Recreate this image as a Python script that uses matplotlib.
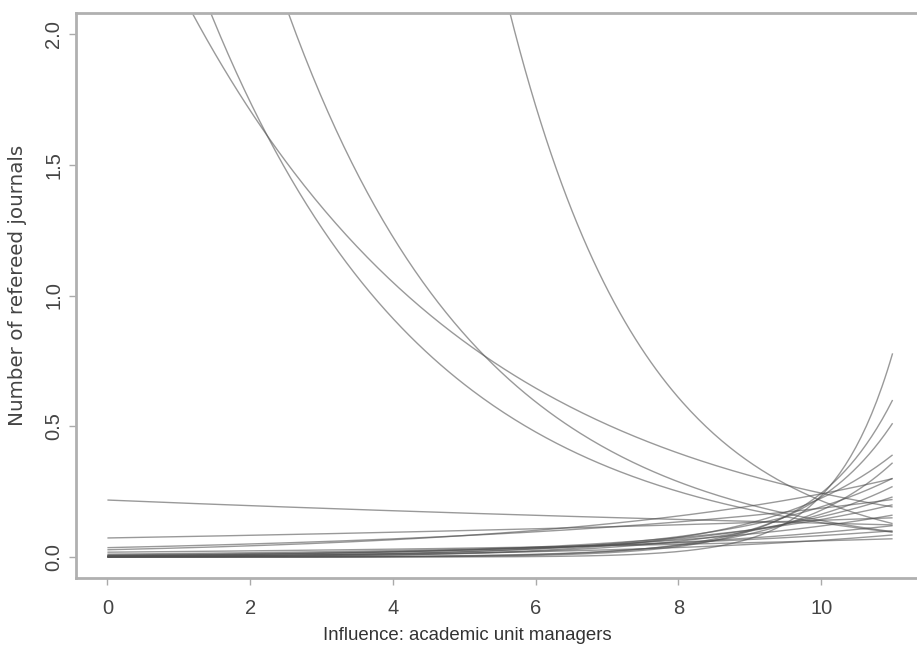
import numpy as np
import matplotlib
matplotlib.use("Agg")
import matplotlib.pyplot as plt

plt.rcParams['font.family'] = ['Liberation Sans', 'DejaVu Sans']

# Poisson-type predicted curves: log(y) = intercept + slope * x
intercepts = [1.021, 1.20, 1.650, 3.665,           # steep decreasing
              -1.523, -2.617, -3.324, -3.576,     # flat-ish
              -13.45, -10.41, -9.47, -6.99, -8.72, -6.81,
              -6.15, -5.87, -5.24, -5.13, -4.87, -4.50, -5.55, -3.98]
slopes = [-0.243, -0.323, -0.362, -0.52,
          -0.052, 0.0655, 0.1646, 0.2156,
          1.2, 0.9, 0.8, 0.55, 0.7, 0.5,
          0.45, 0.40, 0.33, 0.30, 0.25, 0.20, 0.28, 0.12]
x_min, x_max = 0, 11
x_ticks = [0, 2, 4, 6, 8, 10]
y_ticks = [0.0, 0.5, 1.0, 1.5, 2.0]
x_label = "Influence: academic unit managers"
y_label = "Number of refereed journals"

W, H = 917, 645
fig = plt.figure(figsize=(W / 100, H / 100), dpi=100)
ax = fig.add_axes([76 / W, 1 - 578 / H, (924 - 76) / W, (578 - 13) / H])

xs = np.linspace(x_min, x_max, 300)
for a, b in zip(intercepts, slopes):
    ax.plot(xs, np.exp(a + b * xs), color='#505050', lw=1.0, alpha=0.58,
            solid_capstyle='butt')

ax.set_xlim(-0.44, 11.44)
ax.set_ylim(-0.08, 2.08)
ax.set_xticks(x_ticks)
ax.set_yticks(y_ticks)
ax.set_xticklabels([str(t) for t in x_ticks])
ax.set_yticklabels([f"{t:.1f}" for t in y_ticks], rotation=90, va='center')
ax.tick_params(direction='out', length=5, width=1, color='#aaaaaa',
               labelcolor='#444444', labelsize=14.5)
ax.tick_params(axis='x', pad=10)
ax.tick_params(axis='y', pad=4)
for side in ['left', 'bottom', 'top', 'right']:
    ax.spines[side].set_color('#b0b0b0')
    ax.spines[side].set_linewidth(2)

fig.text(467 / W, 1 - 636 / H, x_label, fontsize=13.4, color='#333333',
         ha='center', va='center')
fig.text(18 / W, 1 - 285 / H, y_label, fontsize=14.3, color='#444444',
         ha='center', va='center', rotation=90, family='DejaVu Sans')

fig.savefig("out.png", dpi=100, facecolor='white')
